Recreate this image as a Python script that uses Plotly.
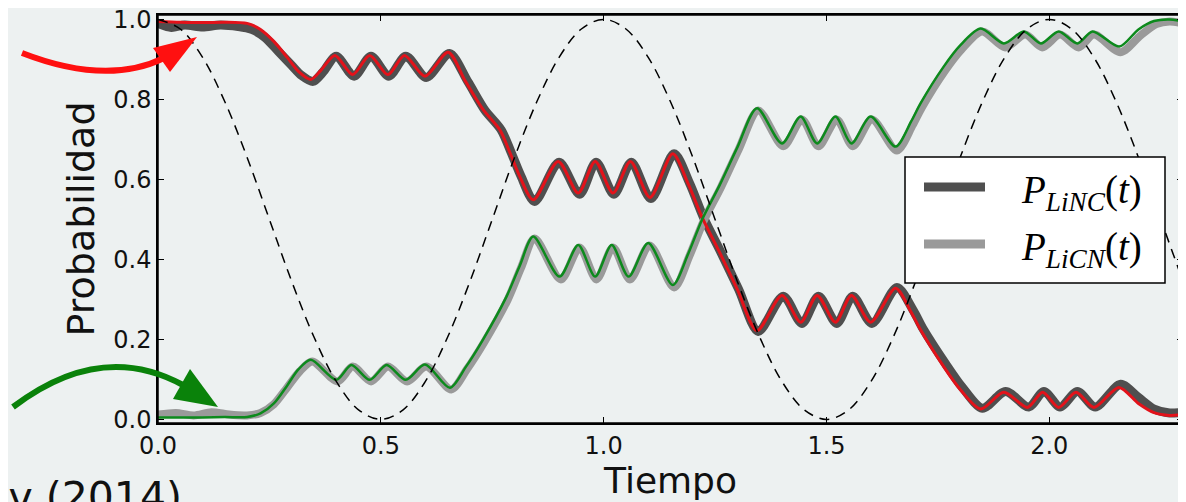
import plotly.graph_objects as go

# ---------------- data ----------------
# analytic-model curves (thin red / thin green)
t_red = [0.00, 0.05, 0.10, 0.15, 0.20, 0.23, 0.26, 0.29, 0.315, 0.343, 0.365, 0.397, 0.437, 0.475, 0.516,
         0.553, 0.599, 0.651, 0.69, 0.73, 0.767, 0.79, 0.812, 0.842, 0.898, 0.943, 0.981, 1.021, 1.06,
         1.104, 1.155, 1.19, 1.221, 1.26, 1.30, 1.344, 1.40, 1.442, 1.479, 1.520, 1.556, 1.599, 1.655,
         1.69, 1.711, 1.763, 1.80, 1.846, 1.898, 1.951, 1.985, 2.021, 2.06, 2.10, 2.156, 2.20, 2.235,
         2.27, 2.30]
p_red = [0.995, 0.993, 0.992, 0.993, 0.990, 0.975, 0.945, 0.905, 0.870, 0.850, 0.872, 0.910, 0.862, 0.910, 0.862,
         0.910, 0.858, 0.918, 0.845, 0.774, 0.724, 0.666, 0.607, 0.549, 0.645, 0.566, 0.645, 0.566, 0.645,
         0.555, 0.664, 0.588, 0.505, 0.418, 0.325, 0.222, 0.310, 0.243, 0.310, 0.243, 0.310, 0.243, 0.328,
         0.268, 0.224, 0.132, 0.075, 0.026, 0.068, 0.030, 0.068, 0.030, 0.068, 0.030, 0.080, 0.040, 0.017,
         0.010, 0.012]

t_green = [0.00, 0.05, 0.10, 0.15, 0.20, 0.23, 0.26, 0.29, 0.315, 0.343, 0.40, 0.434, 0.475, 0.513, 0.556,
           0.599, 0.655, 0.69, 0.729, 0.782, 0.812, 0.842, 0.901, 0.943, 0.981, 1.018, 1.056, 1.10,
           1.155, 1.19, 1.221, 1.26, 1.30, 1.344, 1.40, 1.442, 1.479, 1.52, 1.556, 1.599, 1.655, 1.69,
           1.711, 1.763, 1.80, 1.846, 1.898, 1.943, 1.981, 2.021, 2.063, 2.097, 2.157, 2.20, 2.235, 2.27,
           2.30]
p_green = [0.005, 0.005, 0.005, 0.006, 0.006, 0.015, 0.040, 0.085, 0.125, 0.149, 0.099, 0.136, 0.099, 0.136, 0.099,
           0.137, 0.079, 0.130, 0.199, 0.307, 0.385, 0.457, 0.357, 0.436, 0.357, 0.436, 0.357, 0.441,
           0.336, 0.415, 0.500, 0.585, 0.680, 0.778, 0.690, 0.757, 0.690, 0.757, 0.690, 0.757, 0.682, 0.745,
           0.790, 0.882, 0.935, 0.977, 0.940, 0.970, 0.940, 0.970, 0.940, 0.970, 0.932, 0.975, 0.996, 1.000,
           0.995]

# numerical curves (thick dark grey / thick light grey)
t_linc = [0.00, 0.03, 0.06, 0.10, 0.14, 0.18, 0.21, 0.24, 0.27, 0.30, 0.322, 0.348, 0.37, 0.40, 0.44, 0.478,
          0.518, 0.556, 0.602, 0.654, 0.695, 0.733, 0.77, 0.793, 0.815, 0.845, 0.90, 0.946, 0.983, 1.023,
          1.062, 1.106, 1.158, 1.193, 1.224, 1.263, 1.303, 1.347, 1.403, 1.445, 1.482, 1.523, 1.559,
          1.602, 1.658, 1.695, 1.716, 1.768, 1.805, 1.85, 1.902, 1.954, 1.988, 2.024, 2.063, 2.103,
          2.16, 2.20, 2.235, 2.27, 2.30]
p_linc = [0.990, 0.980, 0.986, 0.981, 0.986, 0.982, 0.975, 0.955, 0.920, 0.885, 0.860, 0.845, 0.868, 0.908, 0.858,
          0.908, 0.858, 0.908, 0.855, 0.915, 0.845, 0.774, 0.724, 0.666, 0.607, 0.545, 0.643, 0.563, 0.643,
          0.563, 0.643, 0.552, 0.664, 0.590, 0.505, 0.418, 0.325, 0.220, 0.308, 0.240, 0.308, 0.240, 0.308,
          0.240, 0.330, 0.272, 0.228, 0.138, 0.080, 0.028, 0.070, 0.031, 0.070, 0.031, 0.070, 0.031,
          0.088, 0.055, 0.026, 0.016, 0.018]

t_licn = [0.00, 0.04, 0.08, 0.12, 0.16, 0.20, 0.23, 0.26, 0.29, 0.318, 0.346, 0.403, 0.437, 0.478, 0.516,
          0.559, 0.602, 0.658, 0.693, 0.732, 0.785, 0.815, 0.845, 0.904, 0.946, 0.984, 1.021, 1.059,
          1.103, 1.158, 1.193, 1.224, 1.263, 1.303, 1.347, 1.403, 1.445, 1.482, 1.523, 1.559, 1.602,
          1.658, 1.693, 1.714, 1.766, 1.803, 1.849, 1.901, 1.946, 1.984, 2.024, 2.066, 2.10, 2.16,
          2.205, 2.24, 2.27, 2.30]
p_licn = [0.012, 0.016, 0.010, 0.018, 0.012, 0.010, 0.016, 0.038, 0.080, 0.120, 0.145, 0.095, 0.132, 0.095, 0.132,
          0.095, 0.132, 0.075, 0.125, 0.193, 0.300, 0.380, 0.452, 0.350, 0.430, 0.350, 0.430, 0.350,
          0.435, 0.330, 0.410, 0.495, 0.580, 0.675, 0.772, 0.683, 0.750, 0.683, 0.750, 0.683, 0.750,
          0.672, 0.735, 0.780, 0.872, 0.925, 0.970, 0.930, 0.962, 0.930, 0.962, 0.930, 0.962, 0.918,
          0.960, 0.988, 0.995, 0.990]

# dashed reference curve
t_dash = [0.00, 0.05, 0.10, 0.15, 0.20, 0.25, 0.30, 0.35, 0.40, 0.45, 0.50, 0.55, 0.60, 0.65, 0.70, 0.75,
          0.80, 0.85, 0.90, 0.95, 1.00, 1.05, 1.10, 1.15, 1.20, 1.25, 1.30, 1.35, 1.40, 1.45, 1.50, 1.55,
          1.60, 1.65, 1.70, 1.75, 1.80, 1.85, 1.90, 1.95, 2.00, 2.05, 2.10, 2.15, 2.20, 2.25, 2.30]
p_dash = [1.000, 0.976, 0.905, 0.794, 0.655, 0.500, 0.345, 0.206, 0.095, 0.024, 0.000, 0.024, 0.095, 0.206, 0.345, 0.500,
          0.655, 0.794, 0.905, 0.976, 1.000, 0.976, 0.905, 0.794, 0.655, 0.500, 0.345, 0.206, 0.095, 0.024, 0.000, 0.024,
          0.095, 0.206, 0.345, 0.500, 0.655, 0.794, 0.905, 0.976, 1.000, 0.976, 0.905, 0.794, 0.655, 0.500, 0.345]

x_ticks = [0.0, 0.5, 1.0, 1.5, 2.0]
x_ticklabels = ["0.0", "0.5", "1.0", "1.5", "2.0"]
y_ticks = [0.0, 0.2, 0.4, 0.6, 0.8, 1.0]
y_ticklabels = ["0.0", "0.2", "0.4", "0.6", "0.8", "1.0"]

name_linc = "<i>P</i><sub><i>LiNC</i></sub>(<i>t</i>)"
name_licn = "<i>P</i><sub><i>LiCN</i></sub>(<i>t</i>)"
col_linc = "#4f4f4f"
col_licn = "#9a9a9a"

# ---------------- geometry ----------------
# the page body has an 8px margin, so the figure is shrunk by that much
OFF = 8
W, H = 1186 - OFF, 502 - OFF
X0, X1, Y0, Y1 = 158, 1183, 15, 423          # plot area in page pixels
ML, MR, MT, MB = X0 - OFF, 1186 - X1, Y0 - OFF, 502 - Y1
BG = "#edf1f1"
PW, PH = X1 - X0, Y1 - Y0


def px(x, y):
    return (x - X0) / PW, (Y1 - y) / PH


def pt(x, y):
    a, b = px(x, y)
    return f"{a:.5f},{b:.5f}"


fig = go.Figure()
fig.add_trace(go.Scatter(x=t_linc, y=p_linc, mode="lines", name=name_linc, showlegend=False,
                         line=dict(color=col_linc, width=9, shape="spline", smoothing=0.8)))
fig.add_trace(go.Scatter(x=t_licn, y=p_licn, mode="lines", name=name_licn, showlegend=False,
                         line=dict(color=col_licn, width=8, shape="spline", smoothing=0.8)))
fig.add_trace(go.Scatter(x=t_red, y=p_red, mode="lines", showlegend=False,
                         line=dict(color="#e3121a", width=3, shape="spline", smoothing=0.8)))
fig.add_trace(go.Scatter(x=t_green, y=p_green, mode="lines", showlegend=False,
                         line=dict(color="#0c8a1c", width=2.5, shape="spline", smoothing=0.8)))
fig.add_trace(go.Scatter(x=t_dash, y=p_dash, mode="lines", showlegend=False,
                         line=dict(color="black", width=1.5, dash="10px,7px", shape="spline")))

shapes = []
# plot frame
shapes.append(dict(type="rect", xref="paper", yref="paper", x0=0, y0=0, x1=1, y1=1,
                   line=dict(color="black", width=1.5), fillcolor="rgba(0,0,0,0)"))
# red arrow
shapes.append(dict(type="path", xref="paper", yref="paper",
                   path=f"M{pt(22, 53)} Q{pt(107, 86)} {pt(164, 58)}",
                   line=dict(color="#ff1010", width=6), fillcolor="rgba(0,0,0,0)"))
shapes.append(dict(type="path", xref="paper", yref="paper",
                   path=f"M{pt(197, 37)} L{pt(153, 48)} L{pt(170, 72)} Z",
                   line=dict(width=0), fillcolor="#ff1010"))
# green arrow
shapes.append(dict(type="path", xref="paper", yref="paper",
                   path=f"M{pt(13, 407)} Q{pt(101, 340)} {pt(183, 385)}",
                   line=dict(color="#0a820a", width=6), fillcolor="rgba(0,0,0,0)"))
shapes.append(dict(type="path", xref="paper", yref="paper",
                   path=f"M{pt(218, 407)} L{pt(190, 369)} L{pt(173, 399)} Z",
                   line=dict(width=0), fillcolor="#0a820a"))

# legend box (drawn like the original matplotlib legend)
bx0, by0 = px(905, 157)
bx1, by1 = px(1165, 283)
shapes.append(dict(type="rect", xref="paper", yref="paper", x0=bx0, y0=by1, x1=bx1, y1=by0,
                   fillcolor="white", line=dict(color="black", width=1.5)))
for yy, col in [(187, col_linc), (244, col_licn)]:
    a0, b0 = px(924, yy)
    a1, _ = px(985, yy)
    shapes.append(dict(type="line", xref="paper", yref="paper", x0=a0, y0=b0, x1=a1, y1=b0,
                       line=dict(color=col, width=9)))

annotations = []
for yy, nm in [(192, name_linc), (250, name_licn)]:
    a, b = px(1019, yy)
    annotations.append(dict(text=nm, xref="paper", yref="paper", x=a, y=b,
                            xanchor="left", yanchor="middle", showarrow=False,
                            font=dict(family="Liberation Serif", size=39, color="black")))

ax, ay = px(-5, 497)
annotations.append(dict(text="iv (2014)", xref="paper", yref="paper", x=ax, y=ay,
                        xanchor="left", yanchor="middle", showarrow=False,
                        font=dict(family="DejaVu Sans", size=41, color="#111111")))

fig.update_layout(
    width=W, height=H,
    margin=dict(l=ML, r=MR, t=MT, b=MB, autoexpand=False),
    paper_bgcolor=BG, plot_bgcolor=BG,
    font=dict(family="DejaVu Sans", color="#111111"),
    shapes=shapes, annotations=annotations,
    showlegend=False,
    xaxis=dict(range=[0, 2.3], tickvals=x_ticks, ticktext=x_ticklabels,
               ticks="inside", ticklen=6, tickwidth=1, tickcolor="black",
               showline=True, linecolor="black", linewidth=1.5, mirror="allticks",
               showgrid=False, zeroline=False, ticklabeloverflow="allow",
               tickfont=dict(size=24, family="DejaVu Sans", color="#111111"),
               title=dict(text="Tiempo", font=dict(size=36, family="DejaVu Sans", color="#111111"),
                          standoff=4)),
    yaxis=dict(range=[-0.009, 1.011], tickvals=y_ticks, ticktext=y_ticklabels,
               ticks="inside", ticklen=6, tickwidth=1, tickcolor="black",
               showline=True, linecolor="black", linewidth=1.5, mirror="allticks",
               showgrid=False, zeroline=False, ticklabeloverflow="allow",
               tickfont=dict(size=24, family="DejaVu Sans", color="#111111"),
               title=dict(text="Probabilidad", font=dict(size=38, family="DejaVu Sans", color="#111111"),
                          standoff=7)),
)

fig.write_html("out.html")
